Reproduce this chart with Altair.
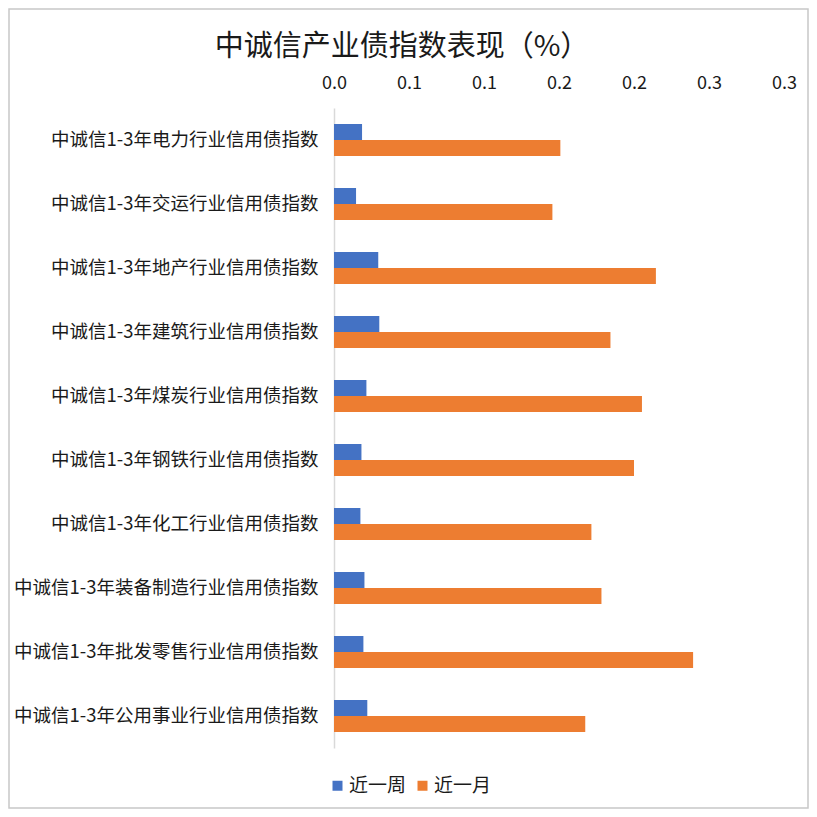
import altair as alt
import pandas as pd

title_text = "中诚信产业债指数表现（%）"
categories = [
    "中诚信1-3年电力行业信用债指数",
    "中诚信1-3年交运行业信用债指数",
    "中诚信1-3年地产行业信用债指数",
    "中诚信1-3年建筑行业信用债指数",
    "中诚信1-3年煤炭行业信用债指数",
    "中诚信1-3年钢铁行业信用债指数",
    "中诚信1-3年化工行业信用债指数",
    "中诚信1-3年装备制造行业信用债指数",
    "中诚信1-3年批发零售行业信用债指数",
    "中诚信1-3年公用事业行业信用债指数",
]
series_names = ["近一周", "近一月"]
week_values = [0.0187, 0.0147, 0.0295, 0.0302, 0.0216, 0.0183, 0.0176, 0.0203, 0.0196, 0.0222]
month_values = [0.1509, 0.1456, 0.2146, 0.1843, 0.2053, 0.2000, 0.1716, 0.1783, 0.2394, 0.1675]
tick_values = [0.0, 0.05, 0.10, 0.15, 0.20, 0.25, 0.30]
tick_labels = ["0.0", "0.1", "0.1", "0.2", "0.2", "0.3", "0.3"]
colors = ["#4472C4", "#ED7D31"]

rows = []
for c, w, m in zip(categories, week_values, month_values):
    rows.append({"category": c, "series": series_names[0], "value": w})
    rows.append({"category": c, "series": series_names[1], "value": m})
df = pd.DataFrame(rows)

FONT = "Noto Sans CJK SC"
TEXT = "#1a1a1a"
label_expr = "[" + ",".join("'%s'" % t for t in tick_labels) + "][round(datum.value / 0.05)]"

bars = alt.Chart(df).mark_bar().encode(
    x=alt.X(
        "value:Q",
        scale=alt.Scale(domain=[0, 0.3], nice=False, zero=True),
        axis=alt.Axis(
            orient="top",
            values=tick_values,
            labelExpr=label_expr,
            title=None,
            grid=False,
            domain=False,
            ticks=False,
            labelFont=FONT,
            labelFontSize=18,
            labelColor=TEXT,
            labelPadding=16,
            labelFlush=False,
        ),
    ),
    y=alt.Y(
        "category:N",
        sort=categories,
        scale=alt.Scale(paddingInner=0.5, paddingOuter=0.25),
        axis=alt.Axis(
            title=None,
            ticks=False,
            domainColor="#D9D9D9",
            domainWidth=1.5,
            labelFont=FONT,
            labelFontSize=18.5,
            labelColor=TEXT,
            labelPadding=16,
            labelLimit=400,
        ),
    ),
    yOffset=alt.YOffset("series:N", sort=series_names, scale=alt.Scale(paddingInner=0, paddingOuter=0)),
    color=alt.Color(
        "series:N",
        sort=series_names,
        scale=alt.Scale(domain=series_names, range=colors),
        legend=alt.Legend(
            title=None,
            orient="none",
            direction="horizontal",
            legendX=-6,
            legendY=668,
            symbolType="square",
            symbolSize=100,
            symbolStrokeWidth=0,
            labelFont=FONT,
            labelFontSize=19,
            labelColor=TEXT,
            columnPadding=6,
            labelOffset=2,
        ),
    ),
)

title = alt.Chart(alt.Data(values=[{"t": title_text}])).mark_text(
    font=FONT, fontSize=29, color=TEXT, align="center", baseline="middle"
).encode(text="t:N", x=alt.value(68), y=alt.value(-61))

frame = alt.Chart(alt.Data(values=[{}])).mark_rect(
    fill="transparent", stroke="#C8C8C8", strokeWidth=1.5
).encode(
    x=alt.value(-325), x2=alt.value(474), y=alt.value(-99), y2=alt.value(700)
)

chart = alt.layer(bars, title, frame).properties(
    width=450,
    height=640,
    padding={"left": 326, "top": 100, "right": 25, "bottom": 61},
    autosize="none",
).configure_view(stroke=None)

chart.save("out.html", embed_options={"renderer": "svg", "actions": False})
